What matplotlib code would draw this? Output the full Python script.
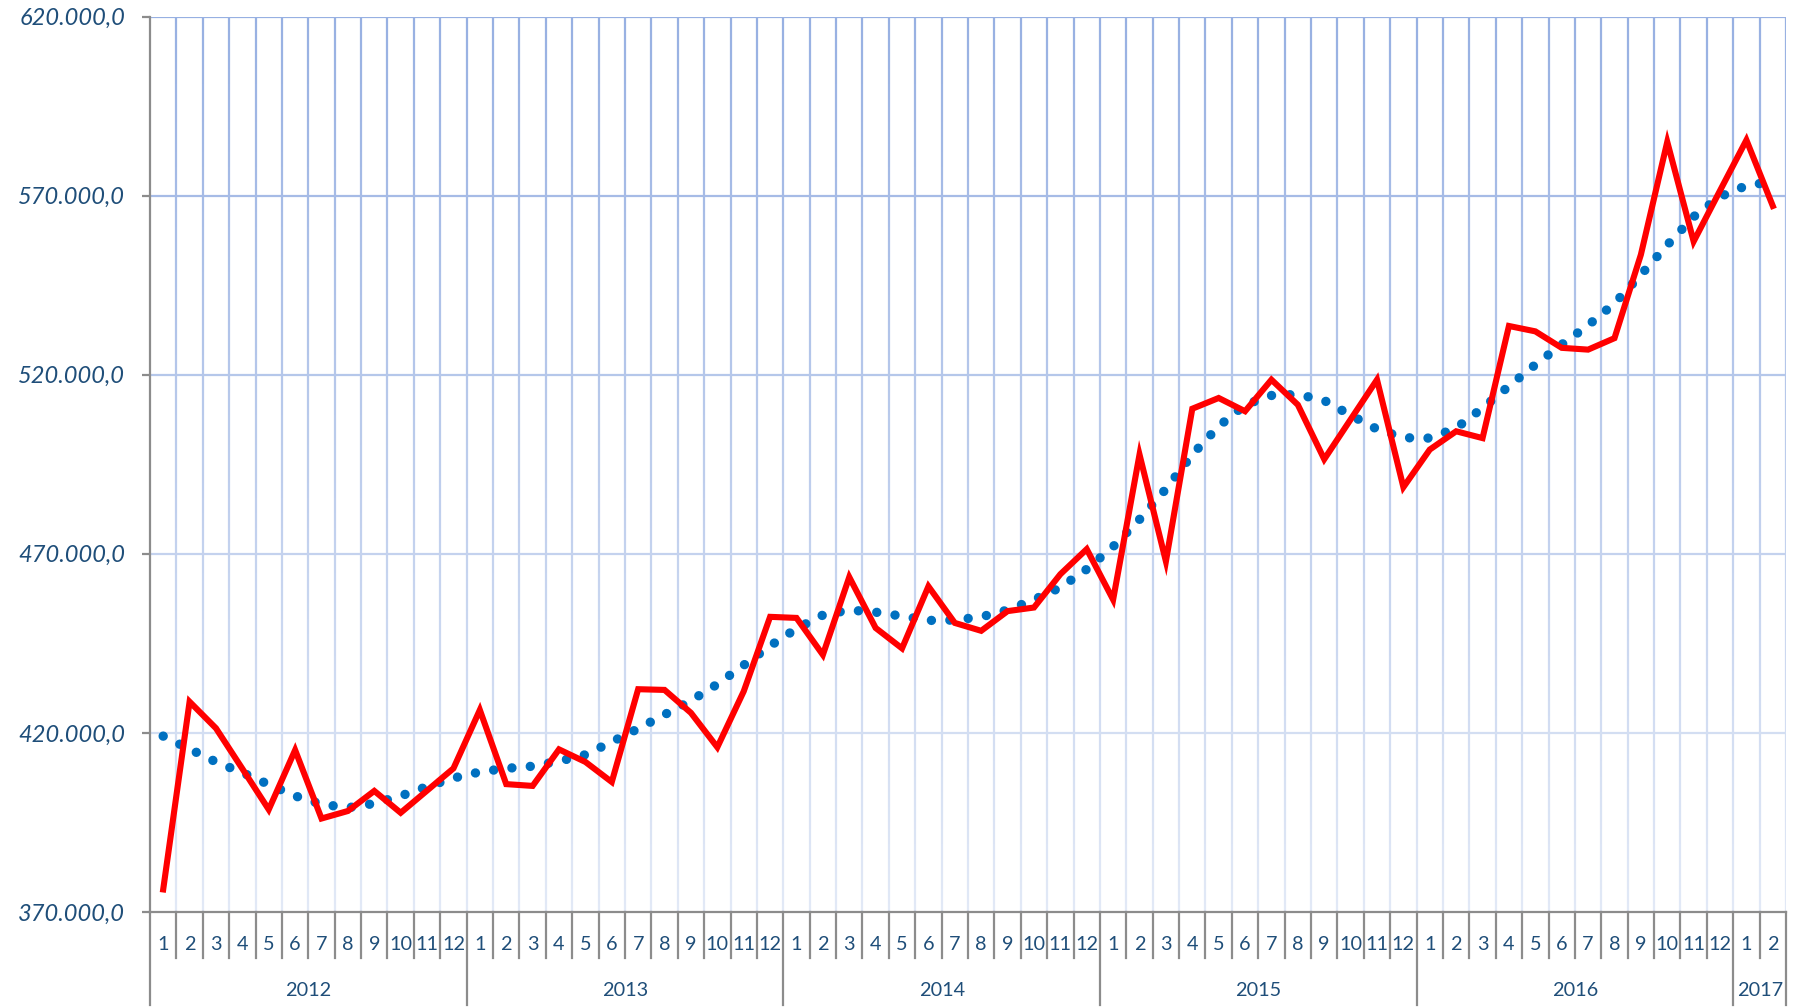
import matplotlib
matplotlib.use("Agg")
import matplotlib.pyplot as plt
import matplotlib.transforms as mtransforms
from matplotlib.collections import LineCollection
from matplotlib import font_manager
import numpy as np

# ---------------- data ----------------
years = ["2012", "2013", "2014", "2015", "2016", "2017"]
year_counts = [12, 12, 12, 12, 12, 2]
month_labels = [str(m) for m in range(1, 13)] * 5 + ["1", "2"]

values = [
    376300, 428700, 421300, 410000, 398600, 415200, 396100, 398200, 403800, 397700, 403900, 410100,
    426400, 405700, 405200, 415400, 411900, 406300, 432200, 432000, 425600, 416000, 431600, 452400,
    452100, 441800, 463500, 449300, 443600, 460900, 450700, 448500, 454000, 455000, 464300, 471300,
    457200, 497700, 467900, 510500, 513500, 509800, 518600, 511600, 496400, 507500, 518600, 488600,
    499100, 504200, 502300, 533600, 532100, 527500, 527000, 530200, 553500, 585000, 557200, 571400,
    585500, 567100,
]
trend = [
    419100, 415500, 411900, 408900, 405600, 402400, 400100, 399100, 400300, 402400, 405000, 407400,
    409100, 410100, 410700, 412100, 413900, 417500, 421200, 425100, 429000, 433600, 438900, 444300,
    449100, 452900, 454300, 453700, 452600, 451400, 451500, 452400, 454300, 457200, 460600, 465700,
    472000, 479600, 488100, 497700, 505600, 511600, 514200, 514500, 512800, 508700, 504800, 502400,
    502300, 505100, 510700, 516800, 522800, 528400, 533800, 539900, 547900, 556200, 564100, 569700,
    572800, 573900,
]
y_ticks = [370000, 420000, 470000, 520000, 570000, 620000]

# ---------------- style ----------------
font = "Lato"
cat_size = 14.3
label_color = "#1F4E79"
axis_grey = "#8C8C8C"

W, H = 1798, 1007
fig = plt.figure(figsize=(W / 100, H / 100), dpi=100)
left, right, top, bottom = 150, 1786, 16.5, 912
ax = fig.add_axes([left / W, 1 - bottom / H, (right - left) / W, (bottom - top) / H])

n = len(values)
x = np.arange(n) + 0.5
ymin, ymax = y_ticks[0], y_ticks[-1]
ax.set_xlim(0, n)
ax.set_ylim(ymin, ymax)

# gradient gridlines
c_top = np.array(matplotlib.colors.to_rgb("#97B0E2"))
c_bot = np.array(matplotlib.colors.to_rgb("#E2E9F6"))
def grad_col(v):
    f = (v - ymin) / (ymax - ymin)
    return tuple(c_bot + (c_top - c_bot) * f)

segs, cols = [], []
ys = np.linspace(ymin, ymax, 120)
for xv in range(1, n + 1):
    for a, b in zip(ys[:-1], ys[1:]):
        segs.append([(xv, a), (xv, b)])
        cols.append(grad_col((a + b) / 2))
for yv in y_ticks[1:]:
    segs.append([(0, yv), (n, yv)])
    cols.append(grad_col(yv))
lc = LineCollection(segs, colors=cols, linewidths=1.6, zorder=1)
ax.add_collection(lc)

# series
ax.plot(x, trend, color="#0070C0", lw=6.8, linestyle=(0, (0.001, 1.95)),
        dash_capstyle="round", solid_capstyle="round", zorder=3)
ax.plot(x, values, color="#FF0000", lw=4.4, solid_joinstyle="miter", zorder=4)

# spines
for s in ["top", "right"]:
    ax.spines[s].set_visible(False)
ax.spines["left"].set_color(axis_grey)
ax.spines["bottom"].set_color(axis_grey)
ax.spines["left"].set_linewidth(1.6)
ax.spines["bottom"].set_linewidth(1.6)

# y ticks
ax.set_yticks(y_ticks)
ax.set_yticklabels([f"{v:,.1f}".replace(",", "X").replace(".", ",").replace("X", ".") for v in y_ticks],
                   fontfamily=font, fontstyle="italic", fontsize=17, color=label_color)
ax.tick_params(axis="y", length=6, width=1.6, color=axis_grey, pad=12)
ax.set_xticks([])

# categorical x axis
trans = mtransforms.blended_transform_factory(ax.transData, ax.transAxes)
ah = bottom - top
sep_m = -(958 - bottom) / ah
sep_y = -(1005 - bottom) / ah
yr_bounds = np.cumsum([0] + year_counts)
for xv in range(0, n + 1):
    end = sep_y if xv in yr_bounds else sep_m
    ax.plot([xv, xv], [0, end], transform=trans, color=axis_grey, lw=1.6, clip_on=False, zorder=5)
for i, lab in enumerate(month_labels):
    ax.text(i + 0.5, -(945 - bottom) / ah, lab, transform=trans, ha="center", va="center",
            fontfamily=font, fontsize=cat_size, color=label_color)
for yr, a, b in zip(years, yr_bounds[:-1], yr_bounds[1:]):
    ax.text((a + b) / 2, -(990 - bottom) / ah, yr, transform=trans, ha="center", va="center",
            fontfamily=font, fontsize=cat_size, color=label_color)

fig.savefig("out.png", dpi=100)
